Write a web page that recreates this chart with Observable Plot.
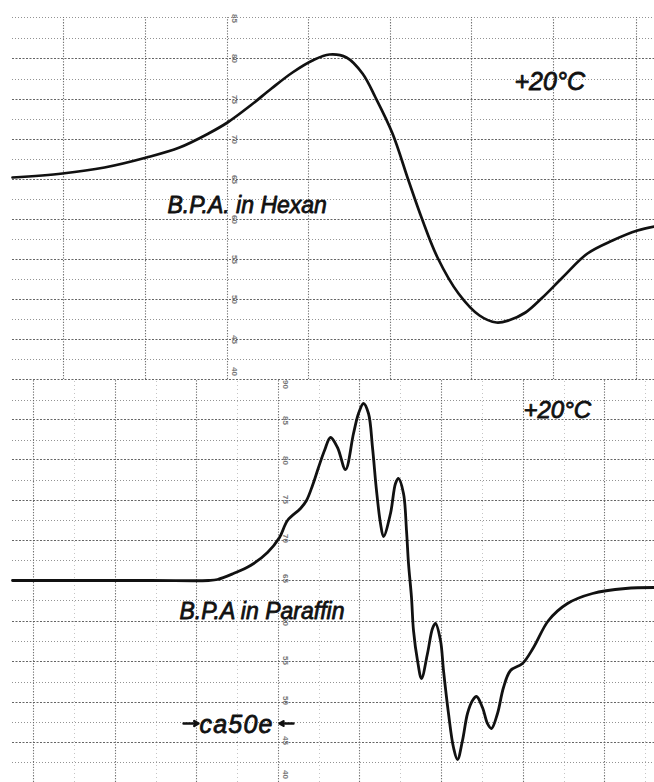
<!DOCTYPE html>
<html>
<head>
<meta charset="utf-8">
<script src="https://cdn.jsdelivr.net/npm/d3@7"></script>
<script src="https://cdn.jsdelivr.net/npm/@observablehq/plot@0.6"></script>
<style>
  html, body { margin: 0; padding: 0; background: #fff; }
  #chart { width: 654px; }
  #chart svg { display: block; }
</style>
</head>
<body>
<div id="chart"></div>
<script>
// ---- Upper trace: B.P.A. in Hexan (field position, signal relative to baseline) ----
const hexanField  = [12, 62, 104, 146, 179, 208, 227, 250, 271, 292, 312, 329, 346, 362, 375, 392, 408, 421, 437, 458, 479, 496, 508, 525, 542, 562, 587, 612, 637, 654];
const hexanSignal = [0, 4, 10, 20, 30, 44, 55, 72, 89, 105, 117, 123, 120, 104, 80, 44, -3, -40, -80, -116, -138, -145, -143, -135, -120, -100, -76, -63, -53, -49];

// ---- Lower trace: B.P.A. in Paraffin ----
const paraffinField  = [12, 150, 208, 217, 233, 250, 267, 279, 287, 300, 306, 312, 318, 324, 330, 337, 345, 353, 358, 363, 368, 372, 376, 380, 383, 390, 395, 398, 403, 406, 408, 411, 413, 417, 421, 427, 432, 435, 440, 443, 448, 453, 457, 462, 467, 472, 476, 482, 487, 491, 497, 503, 510, 522, 533, 548, 567, 592, 625, 654];
const paraffinSignal = [0, 0, 0, 1, 7, 15, 28, 43, 60, 72, 80, 95, 113, 130, 143, 133, 111, 147, 167, 177, 167, 133, 90, 57, 44, 67, 97, 102, 87, 50, 17, -17, -50, -80, -98, -73, -48, -43, -60, -90, -133, -167, -179, -160, -133, -120, -116, -127, -143, -148, -133, -107, -90, -83, -67, -40, -23, -13, -8, -7];

// ---- Chart-paper grid (field positions of verticals, signal levels of horizontals) ----
const topVerticals    = [63, 145, 227, 308, 390, 471, 553, 636];
const topMajorLevels  = [119, 78, 38, -2, -42, -82, -122, -162, -202];
const topMinorLevels  = [160, 139, 98, 58, 18, -22, -62, -102, -142, -182];
const botVerticals    = [33, 115, 196, 278, 359, 441, 523, 604];
const botMinorVerts   = [74, 156, 237, 319, 400, 482, 564, 645];
const botMajorLevels  = [201, 161, 121, 80, 40, 0, -41, -81, -122, -162];
const botMinorLevels  = [180, 140, 100, 60, 20, -20, -61, -102, -142, -182];

// ---- Paper scale numbers (printed along one vertical of each sheet) ----
const topPaperNumbers    = ["85", "80", "75", "70", "65", "60", "55", "50", "45", "40"];
const topPaperLevels     = [159, 119, 78, 38, -2, -42, -82, -122, -162, -194];
const botPaperNumbers    = ["90", "85", "80", "75", "70", "65", "60", "55", "50", "45", "40"];
const botPaperLevels     = [196, 160, 120, 81, 42, 2, -41, -80, -120, -160, -194];

// ---- Annotations ----
const tempLabel = "+20°C";
const hexanLabel = "B.P.A. in Hexan";
const paraffinLabel = "B.P.A in Paraffin";
const scaleLabel = "ca50e";

const W = 654;
const font = "'Liberation Sans', Arial, sans-serif";
const ink = "#111";
const toRows = (xs, ys) => xs.map((x, i) => ({x, y: ys[i]}));
const labelStyle = {textAnchor: "start", fontStyle: "italic", fill: ink, stroke: ink, strokeWidth: 0.8};

const gridMarks = (verts, minorVerts, major, minor, yTop, yBot) => [
  Plot.ruleY(minor, {x1: 12, x2: W, stroke: "#808080", strokeWidth: 1, strokeDasharray: "1,2", strokeOpacity: 0.85}),
  Plot.ruleY(major, {x1: 12, x2: W, stroke: "#4a4a4a", strokeWidth: 1.2, strokeDasharray: "2,1.5", strokeOpacity: 0.85}),
  ...(minorVerts ? [Plot.ruleX(minorVerts, {y1: yBot, y2: yTop, stroke: "#c4c4c4", strokeWidth: 1, strokeDasharray: "1,3"})] : []),
  Plot.ruleX(verts, {y1: yBot, y2: yTop, stroke: "#5a5a5a", strokeWidth: 1.1, strokeDasharray: "1.3,1.5", strokeOpacity: 0.85})
];

const upperPanel = Plot.plot({
  width: W, height: 379,
  margin: 0,
  x: {domain: [0, W], axis: null},
  y: {domain: [-202, 177], axis: null},
  style: {background: "#fff", fontFamily: font},
  marks: [
    ...gridMarks(topVerticals, null, topMajorLevels, topMinorLevels, 160, -202),
    Plot.text(topPaperNumbers, {x: 234, y: (d, i) => topPaperLevels[i], text: d => d, rotate: 90, fontSize: 8, fontWeight: "bold", fill: "#777"}),
    Plot.line(toRows(hexanField, hexanSignal), {x: "x", y: "y", curve: "catmull-rom", stroke: ink, strokeWidth: 2.7}),
    Plot.text([hexanLabel], {...labelStyle, x: 167, y: -28, text: d => d, fontSize: 23}),
    Plot.text([tempLabel], {...labelStyle, x: 514, y: 96, text: d => d, fontSize: 25})
  ]
});

const lowerPanel = Plot.plot({
  width: W, height: 403,
  margin: 0,
  x: {domain: [0, W], axis: null},
  y: {domain: [-202, 201], axis: null},
  style: {background: "#fff", fontFamily: font},
  marks: [
    ...gridMarks(botVerticals, botMinorVerts, botMajorLevels, botMinorLevels, 201, -202),
    Plot.text(botPaperNumbers, {x: 285, y: (d, i) => botPaperLevels[i], text: d => d, rotate: 90, fontSize: 8, fontWeight: "bold", fill: "#777"}),
    Plot.line(toRows(paraffinField, paraffinSignal), {x: "x", y: "y", curve: "catmull-rom", stroke: ink, strokeWidth: 2.8}),
    Plot.text([paraffinLabel], {...labelStyle, x: 179, y: -31, text: d => d, fontSize: 23}),
    Plot.text([tempLabel], {...labelStyle, x: 523, y: 170, text: d => d, fontSize: 24}),
    Plot.text([scaleLabel], {...labelStyle, x: 199, y: -144, text: d => d, fontSize: 25}),
    Plot.arrow([0], {x1: 183, x2: 198, y1: -143, y2: -143, stroke: ink, strokeWidth: 2.4, headLength: 7}),
    Plot.arrow([0], {x1: 293, x2: 279, y1: -143, y2: -143, stroke: ink, strokeWidth: 2.4, headLength: 7})
  ]
});

// slightly open letter spacing of the field-width annotation as on the original
d3.select(lowerPanel).selectAll("text").filter(function () { return this.textContent === scaleLabel; })
  .attr("letter-spacing", "1.2px");

const root = document.getElementById("chart");
root.appendChild(upperPanel);
root.appendChild(lowerPanel);
</script>
</body>
</html>
